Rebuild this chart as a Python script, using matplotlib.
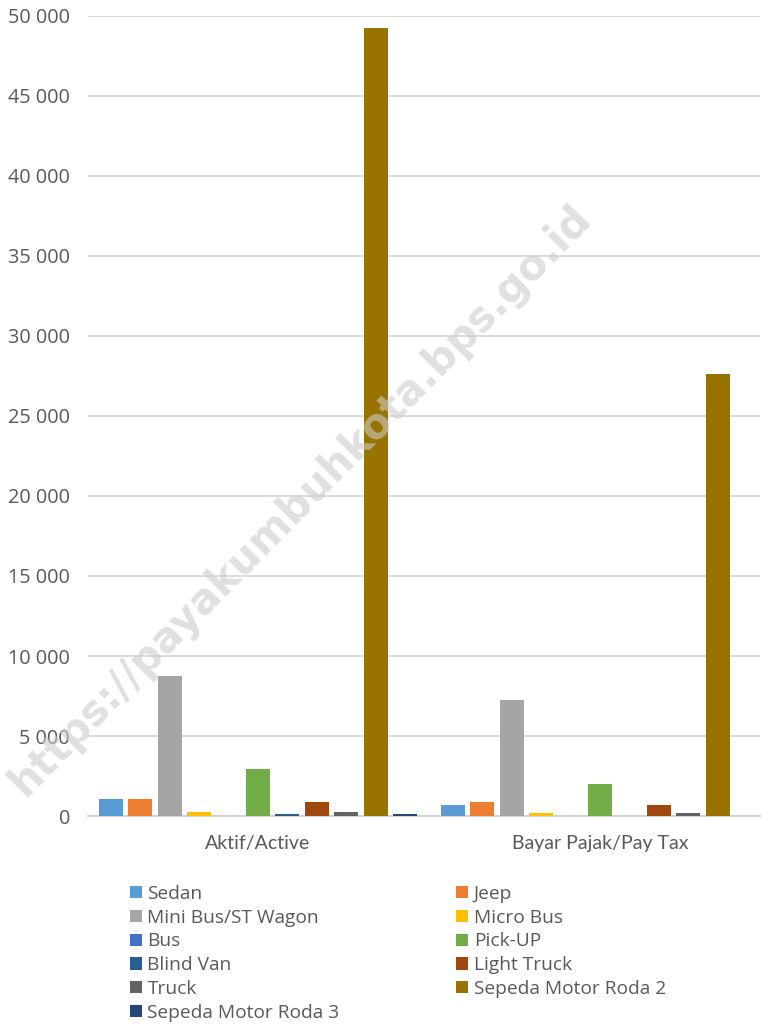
import matplotlib
matplotlib.use("Agg")
import matplotlib.pyplot as plt
import numpy as np
from matplotlib.patches import Patch

categories = ["Aktif/Active", "Bayar Pajak/Pay Tax"]
series_names = ["Sedan", "Jeep", "Mini Bus/ST Wagon", "Micro Bus", "Bus", "Pick-UP",
                "Blind Van", "Light Truck", "Truck", "Sepeda Motor Roda 2", "Sepeda Motor Roda 3"]
sedan = [1060, 690]
jeep = [1060, 875]
minibus = [8750, 7250]
microbus = [250, 190]
bus = [0, 0]
pickup = [2950, 2000]
blindvan = [100, 0]
lighttruck = [875, 690]
truck = [250, 190]
smr2 = [49250, 27625]
smr3 = [100, 0]
series_values = [sedan, jeep, minibus, microbus, bus, pickup, blindvan, lighttruck, truck, smr2, smr3]
yticks = [0, 5000, 10000, 15000, 20000, 25000, 30000, 35000, 40000, 45000, 50000]
ytick_labels = ["0", "5 000", "10 000", "15 000", "20 000", "25 000", "30 000",
                "35 000", "40 000", "45 000", "50 000"]

colors = ["#5b9bd5", "#ed7d31", "#a5a5a5", "#ffc000", "#4472c4", "#70ad47",
          "#255e91", "#9e480e", "#636363", "#997300", "#264478"]

plt.rcParams['font.family'] = ['Open Sans', 'DejaVu Sans']

fig = plt.figure(figsize=(7.61, 10.25), dpi=100)
ax = fig.add_axes([0.1156, 0.2039, 0.8834, 0.7805])

n = len(series_names)
step = 29.4 / 342
width = 24 / 342
x = np.arange(len(categories))
for i, (name, vals) in enumerate(zip(series_names, series_values)):
    off = (i - (n - 1) / 2) * step
    ax.bar(x + off, vals, width=width, color=colors[i], label=name, zorder=3)

ax.set_xlim(-0.497, 1.468)
ax.set_ylim(0, 50000)
ax.set_yticks(yticks)
ax.set_yticklabels(ytick_labels)
ax.set_xticks(x)
ax.set_xticklabels(categories, family=['Lato', 'DejaVu Sans'], fontsize=14)
ax.tick_params(axis='both', length=0, colors="#595959")
ax.tick_params(axis='y', pad=13, labelsize=14.3)
ax.tick_params(axis='x', pad=14)
ax.grid(axis='y', color="#d9d9d9", linewidth=1.3, zorder=0)
for s in ["left", "right", "top"]:
    ax.spines[s].set_visible(False)
ax.spines["bottom"].set_color("#d0d0d0")
ax.spines["bottom"].set_linewidth(1.3)

# Legend: row-wise order in two columns
order = [0, 2, 4, 6, 8, 10, 1, 3, 5, 7, 9]
handles = [Patch(facecolor=colors[i], edgecolor='none') for i in order]
labels = [series_names[i] for i in order]
leg = fig.legend(handles, labels, ncol=2, loc='upper left', bbox_to_anchor=(0.171, 0.1366),
                 frameon=False, fontsize=13.8, handlelength=0.62, handleheight=0.62,
                 handletextpad=0.28, labelspacing=0.3, columnspacing=6.1,
                 labelcolor="#595959", borderaxespad=0, borderpad=0)

fig.text(0.395, 0.512, "https://payakumbuhkota.bps.go.id", rotation=45.5,
         ha='center', va='center', fontsize=30, fontweight='bold',
         color="#cccccc", alpha=0.6, family=['DejaVu Sans'])

fig.savefig("out.png", dpi=100)
